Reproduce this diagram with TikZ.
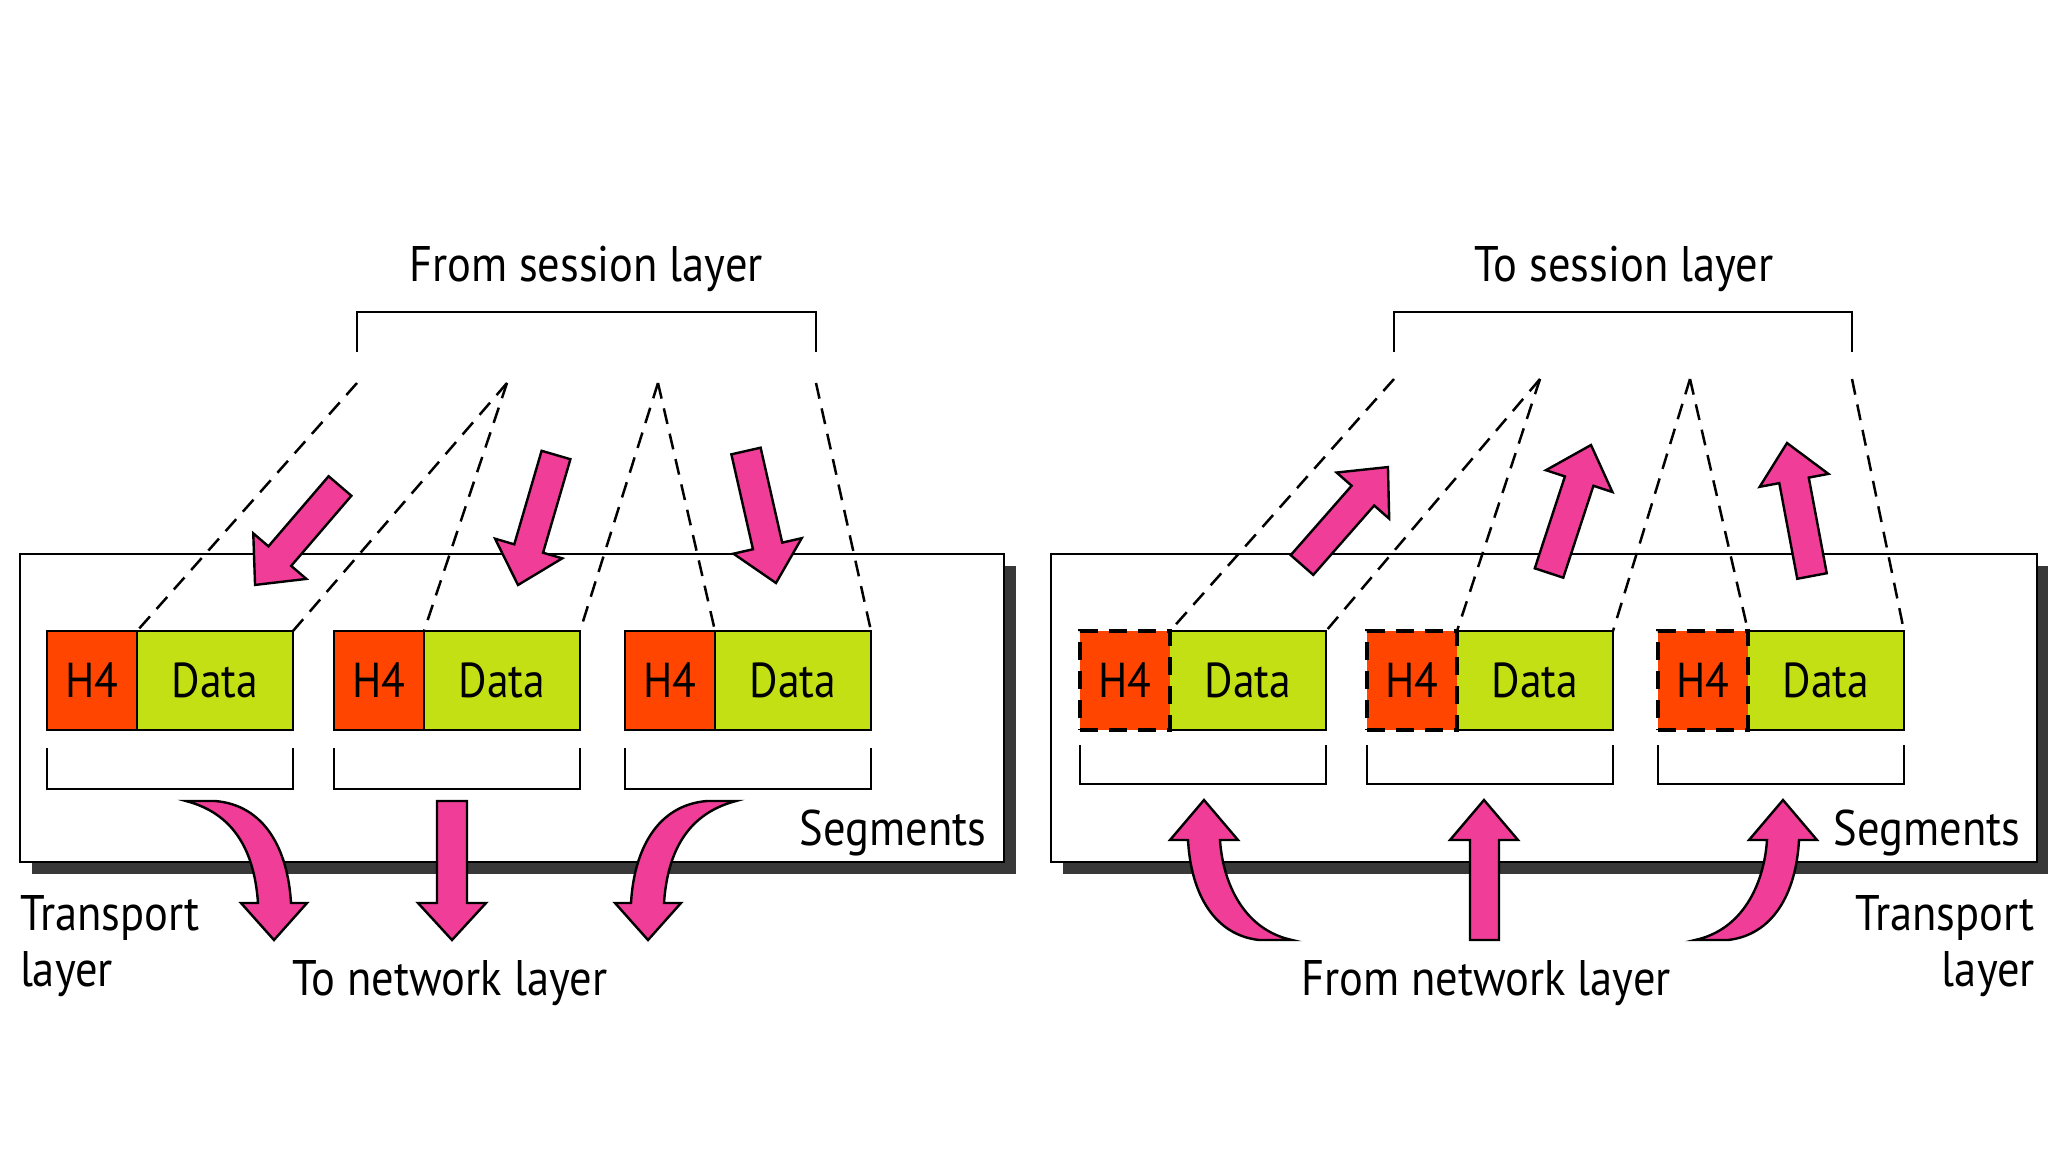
\documentclass[tikz,border=0pt]{standalone}
\usepackage{fontspec}
\setmainfont[FakeStretch=0.89]{PT Sans}
\definecolor{hred}{HTML}{FF4500}
\definecolor{dgreen}{HTML}{C2E014}
\definecolor{apink}{HTML}{EF3D98}
\definecolor{shadowgray}{HTML}{383838}
\tikzset{
  lbl/.style={font=\fontsize{50}{56}\selectfont, inner sep=0pt, outer sep=0pt},
  hbox/.style={draw, line width=2.5pt, fill=hred, minimum width=90pt, minimum height=99pt,
    inner sep=0pt, outer sep=0pt, font=\fontsize{49}{52}\selectfont},
  hboxd/.style={hbox, line width=3.5pt, dash pattern=on 18pt off 11pt},
  dbox/.style={draw, line width=2.5pt, fill=dgreen, minimum width=156pt, minimum height=99pt,
    inner sep=0pt, outer sep=0pt, font=\fontsize{49}{52}\selectfont},
  dboxf/.style={dbox, draw=none},
  dline/.style={line width=2.5pt, dash pattern=on 16pt off 10pt},
  brk/.style={line width=2.4pt},
  boxline/.style={line width=2.6pt, fill=white},
  parrow/.style={fill=apink, draw=black, line width=2.4pt, line join=miter},
}
\newcommand{\pinkarrow}[4]{%
  \pgfmathsetmacro\pangle{atan2(-(#4-#2),#3-#1)}%
  \pgfmathsetmacro\plen{veclen(#3-#1,#4-#2)}%
  \begin{scope}[shift={(#1,#2)}, rotate=\pangle]
    \filldraw[parrow] (0pt,-15pt) -- ({\plen pt-38pt},-15pt) -- ({\plen pt-38pt},-35pt)
      -- ({\plen pt},0pt) -- ({\plen pt-38pt},35pt) -- ({\plen pt-38pt},15pt) -- (0pt,15pt) -- cycle;
  \end{scope}}
\begin{document}
\begin{tikzpicture}[x=1pt,y=-1pt]
\useasboundingbox[fill=white] (0,0) rectangle (2048,1152);

% ---------- outer boxes with shadows ----------
\fill[shadowgray] (32,566) rectangle (1016,874);
\draw[boxline] (20,554) rectangle (1004,862);
\fill[shadowgray] (1063,566) rectangle (2050,874);
\draw[boxline] (1051,554) rectangle (2037,862);

% ---------- titles ----------
\node[lbl, anchor=base] (t1) at (586,281) {From session layer};
\node[lbl, anchor=base] (t2) at (1624,281) {To session layer};

% ---------- top brackets ----------
\draw[brk] (357,352) -- (357,312) -- (816,312) -- (816,352);
\draw[brk] (1394,352) -- (1394,312) -- (1852,312) -- (1852,352);

% ---------- left segments ----------
\node[hbox, anchor=north west] (lh1) at (47,631) {H4};
\node[dbox, anchor=north west] (ld1) at (lh1.north east) {Data};
\node[hbox, anchor=north west] (lh2) at (334,631) {H4};
\node[dbox, anchor=north west] (ld2) at (lh2.north east) {Data};
\node[hbox, anchor=north west] (lh3) at (625,631) {H4};
\node[dbox, anchor=north west] (ld3) at (lh3.north east) {Data};

% ---------- right segments ----------
\node[dboxf, anchor=north west] (rd1) at (1170,631) {Data};
\node[hboxd, anchor=north east] (rh1) at (rd1.north west) {H4};
\node[dboxf, anchor=north west] (rd2) at (1457,631) {Data};
\node[hboxd, anchor=north east] (rh2) at (rd2.north west) {H4};
\node[dboxf, anchor=north west] (rd3) at (1748,631) {Data};
\node[hboxd, anchor=north east] (rh3) at (rd3.north west) {H4};
\foreach \d in {rd1,rd2,rd3}{
  \draw[line width=2.5pt] (\d.north west) -- (\d.north east) -- (\d.south east) -- (\d.south west);
}

% ---------- lower brackets ----------
\draw[brk] (47,748) -- (47,789) -- (ld1.east |- 0,789) -- (ld1.east |- 0,748);
\draw[brk] (334,748) -- (334,789) -- (ld2.east |- 0,789) -- (ld2.east |- 0,748);
\draw[brk] (625,748) -- (625,789) -- (ld3.east |- 0,789) -- (ld3.east |- 0,748);
\draw[brk] (rh1.west |- 0,745) -- (rh1.west |- 0,784) -- (rd1.east |- 0,784) -- (rd1.east |- 0,745);
\draw[brk] (rh2.west |- 0,745) -- (rh2.west |- 0,784) -- (rd2.east |- 0,784) -- (rd2.east |- 0,745);
\draw[brk] (rh3.west |- 0,745) -- (rh3.west |- 0,784) -- (rd3.east |- 0,784) -- (rd3.east |- 0,745);

% ---------- dashed expansion lines ----------
\coordinate (ls1) at (357,383);
\coordinate (ls2) at (507,383);
\coordinate (ls3) at (658,383);
\coordinate (ls4) at (816,383);
\draw[dline] (ls1) -- (ld1.north west);
\draw[dline] (ls2) -- (ld1.north east);
\draw[dline] (ls2) -- (ld2.north west);
\draw[dline] (ls3) -- (ld2.north east);
\draw[dline] (ls3) -- (ld3.north west);
\draw[dline] (ls4) -- (ld3.north east);
\coordinate (rs1) at (1394,379);
\coordinate (rs2) at (1540,379);
\coordinate (rs3) at (1690,379);
\coordinate (rs4) at (1852,379);
\draw[dline] (rs1) -- (rd1.north west);
\draw[dline] (rs2) -- (rd1.north east);
\draw[dline] (rs2) -- (rd2.north west);
\draw[dline] (rs3) -- (rd2.north east);
\draw[dline] (rs3) -- (rd3.north west);
\draw[dline] (rs4) -- (rd3.north east);

% ---------- upper straight arrows ----------
\pinkarrow{340}{486}{255}{585}
\pinkarrow{556}{455}{518}{585}
\pinkarrow{746}{451}{776}{583}
\pinkarrow{1302}{565}{1388}{467}
\pinkarrow{1549}{573}{1591}{445}
\pinkarrow{1812}{576}{1787}{443}

% ---------- lower arrows, left (to network layer) ----------
\filldraw[parrow] (186,801) -- (215,801) .. controls (265,805) and (288,850) .. (291,903)
  -- (307,903) -- (274,940) -- (241,903) -- (258,903)
  .. controls (255,860) and (240,815) .. (186,801) -- cycle;
\filldraw[parrow] (437,801) -- (437,903) -- (418,903) -- (452,940) -- (486,903) -- (467,903) -- (467,801) -- cycle;
\filldraw[parrow] (736,801) -- (707,801) .. controls (657,805) and (634,850) .. (631,903)
  -- (615,903) -- (648,940) -- (681,903) -- (664,903)
  .. controls (667,860) and (682,815) .. (736,801) -- cycle;

% ---------- lower arrows, right (from network layer) ----------
\filldraw[parrow] (1292,940) -- (1259,940) .. controls (1215,935) and (1191,895) .. (1188,840)
  -- (1170,840) -- (1204,800) -- (1238,840) -- (1220,840)
  .. controls (1223,885) and (1245,930) .. (1292,940) -- cycle;
\filldraw[parrow] (1470,940) -- (1470,840) -- (1450,840) -- (1484,800) -- (1518,840) -- (1499,840) -- (1499,940) -- cycle;
\filldraw[parrow] (1695,940) -- (1728,940) .. controls (1772,935) and (1796,895) .. (1799,840)
  -- (1817,840) -- (1783,800) -- (1749,840) -- (1767,840)
  .. controls (1764,885) and (1742,930) .. (1695,940) -- cycle;

% ---------- labels ----------
\node[lbl, anchor=base] (sg1) at (893,845) {Segments};
\node[lbl, anchor=base] (sg2) at (1927,845) {Segments};
\node[lbl, anchor=base west] (tr1) at (20,930) {Transport};
\node[lbl, anchor=base west] (ly1) at (20,986) {layer};
\node[lbl, anchor=base east] (tr2) at (2035,930) {Transport};
\node[lbl, anchor=base east] (ly2) at (2035,986) {layer};
\node[lbl, anchor=base] (tn) at (450,995) {To network layer};
\node[lbl, anchor=base] (fn) at (1486,995) {From network layer};
\end{tikzpicture}
\end{document}
